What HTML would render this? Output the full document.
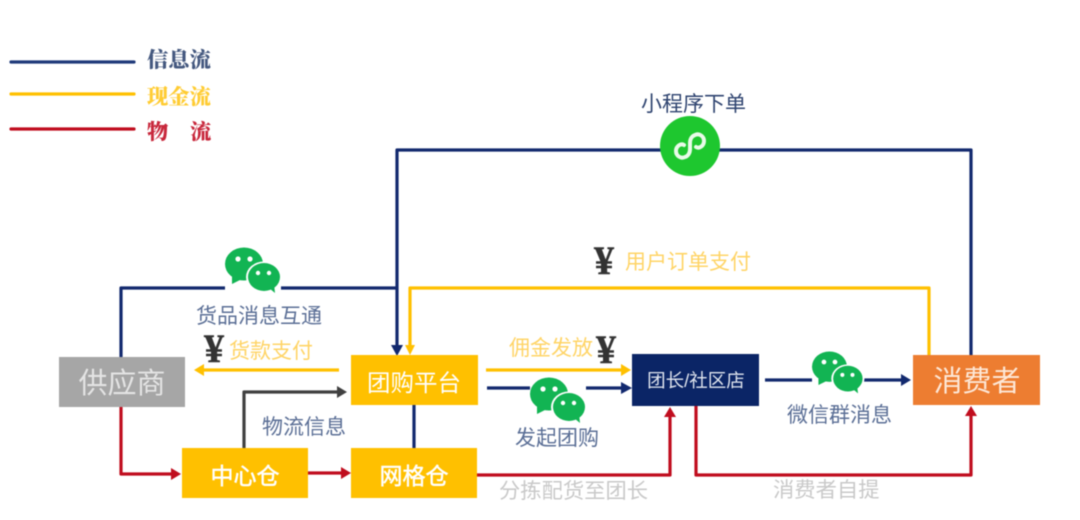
<!DOCTYPE html>
<html lang="zh">
<head>
<meta charset="utf-8">
<style>
html,body{margin:0;padding:0;background:#fff;width:1080px;height:520px;overflow:hidden}
svg{display:block;filter:blur(.6px)}
text{font-family:"Liberation Sans","Noto Sans CJK SC",sans-serif}
.s{font-family:"Noto Serif CJK SC","Liberation Serif",serif;font-weight:900;font-size:21.3px}
.l{font-size:21px;fill:#5b6f96}
.y{font-size:21px;fill:#ffd466}
.g{font-size:21.3px;fill:#c9c9c9}
.b{font-size:22px;fill:#fff;text-anchor:middle}
.yen{font-family:"Liberation Serif",serif;font-weight:700;font-size:40px;fill:#333;stroke:#333;stroke-width:.5}
path.c{fill:none;stroke-width:3.2;stroke-linejoin:round}
</style>
</head>
<body>
<svg width="1080" height="520" viewBox="0 0 1080 520" xmlns="http://www.w3.org/2000/svg">
<defs>
<g id="wx">
<ellipse cx="19" cy="17" rx="19" ry="16.5" fill="#12b453"/>
<path d="M7 28 L7 37 L17 32Z" fill="#12b453"/>
<circle cx="13" cy="12" r="2.6" fill="#fff"/><circle cx="25" cy="12" r="2.6" fill="#fff"/>
<ellipse cx="39" cy="30" rx="18" ry="15.5" fill="#fff"/>
<ellipse cx="39" cy="30" rx="16" ry="14" fill="#12b453"/>
<path d="M44 41 L50 46 L49 37Z" fill="#12b453"/>
<circle cx="33" cy="26" r="2.2" fill="#fff"/><circle cx="44" cy="26" r="2.2" fill="#fff"/>
</g>
</defs>

<!-- legend -->
<line x1="11" y1="62" x2="134" y2="62" stroke="#1f3a7a" stroke-width="3.2" stroke-linecap="round"/>
<line x1="11" y1="94" x2="134" y2="94" stroke="#ffc000" stroke-width="3.2" stroke-linecap="round"/>
<line x1="11" y1="129" x2="134" y2="129" stroke="#c00d1e" stroke-width="3.2" stroke-linecap="round"/>
<text class="s" x="147" y="67" fill="#44587f">信息流</text>
<text class="s" x="147" y="104" fill="#ffcc33">现金流</text>
<text class="s" x="147" y="139" fill="#c8283c">物</text>
<text class="s" x="190" y="139" fill="#c8283c">流</text>

<!-- blue lines -->
<path class="c" stroke="#12296e" d="M397 345V150H971V355"/>
<path class="c" stroke="#12296e" d="M121 357V288H225M281 288H397"/>
<path d="M391 345H403L397 356Z" fill="#12296e"/>
<path class="c" stroke="#12296e" d="M414 405V448"/>
<path class="c" stroke="#12296e" d="M487 388H530M586 388H622"/>
<path d="M621 382L632 388L621 394Z" fill="#12296e"/>
<path class="c" stroke="#12296e" d="M765 380H812M862 380H902"/>
<path d="M901 374L911 380L901 386Z" fill="#12296e"/>

<!-- yellow lines -->
<path class="c" stroke="#ffc000" d="M929 355V288H410V345"/>
<path d="M405 345H415L410 355Z" fill="#ffc000"/>
<path class="c" stroke="#ffc000" d="M339 370H203"/>
<path d="M204 364L194 370L204 376Z" fill="#ffc000"/>
<path class="c" stroke="#ffc000" d="M486 370H622"/>
<path d="M621 364L631 370L621 376Z" fill="#ffc000"/>

<!-- grey -->
<path class="c" stroke="#404040" d="M244 448V392H338"/>
<path d="M337 386L347 392L337 398Z" fill="#404040"/>

<!-- red lines -->
<path class="c" stroke="#c00d1e" d="M121 407V474H172"/>
<path d="M171 468L181 474L171 480Z" fill="#c00d1e"/>
<path class="c" stroke="#c00d1e" d="M308 473H342"/>
<path d="M341 467L351 473L341 479Z" fill="#c00d1e"/>
<path class="c" stroke="#c00d1e" d="M477 475H670V417"/>
<path d="M664 417L670 407L676 417Z" fill="#c00d1e"/>
<path class="c" stroke="#c00d1e" d="M696 406V475H971V416"/>
<path d="M965 416L971 406L977 416Z" fill="#c00d1e"/>

<!-- boxes -->
<rect x="59" y="357" width="126" height="50" fill="#a6a6a6"/>
<text class="b" x="122" y="393" style="font-size:29px;fill:#e4e4e4">供应商</text>
<rect x="351" y="355" width="127" height="50" fill="#ffc000"/>
<text class="b" x="414" y="391" style="font-size:23.5px">团购平台</text>
<rect x="182" y="448" width="126" height="50" fill="#ffc000"/>
<text class="b" x="245" y="484" style="font-size:23px;stroke:#fff;stroke-width:.5">中心仓</text>
<rect x="351" y="448" width="126" height="50" fill="#ffc000"/>
<text class="b" x="414" y="484" style="font-size:23px;stroke:#fff;stroke-width:.5">网格仓</text>
<rect x="632" y="354" width="127" height="52" fill="#0b2566"/>
<text class="b" x="696" y="387" style="font-size:18.5px;fill:#dfe4ee" xml:space="preserve">团长/社区店</text>
<rect x="913" y="355" width="127" height="50" fill="#ed7d31"/>
<text class="b" x="977" y="391" style="font-size:29px;fill:#fde7d6">消费者</text>

<!-- mini program -->
<text x="693.5" y="111" text-anchor="middle" style="font-size:21px;fill:#2f4470">小程序下单</text>
<circle cx="690" cy="146" r="30" fill="#1ec72f"/>
<path d="M684 145c-3-2-8 1-8 6c0 5 5 8 9 6c3-1 5-4 5-8v-6c0-4 2-7 5-8c4-2 9 1 9 6c0 5-5 8-8 6" fill="none" stroke="#e9fbe9" stroke-width="4" stroke-linecap="round"/>

<!-- wechat icons -->
<use href="#wx" x="225" y="247"/>
<use href="#wx" x="530" y="377"/>
<use href="#wx" transform="translate(812 351) scale(.92)"/>

<!-- labels -->
<text class="l" x="196" y="323">货品消息互通</text>
<text class="y" x="229" y="358">货款支付</text>
<text class="yen" x="204" y="362">¥</text>
<text class="l" x="262" y="434">物流信息</text>
<text class="y" x="509" y="355">佣金发放</text>
<text class="yen" x="596" y="363">¥</text>
<text class="l" x="515" y="445">发起团购</text>
<text class="l" x="787" y="422">微信群消息</text>
<text class="g" x="499" y="498">分拣配货至团长</text>
<text class="g" x="773" y="497">消费者自提</text>
<text class="yen" x="594" y="274">¥</text>
<text class="y" x="625" y="269">用户订单支付</text>
</svg>
</body>
</html>
